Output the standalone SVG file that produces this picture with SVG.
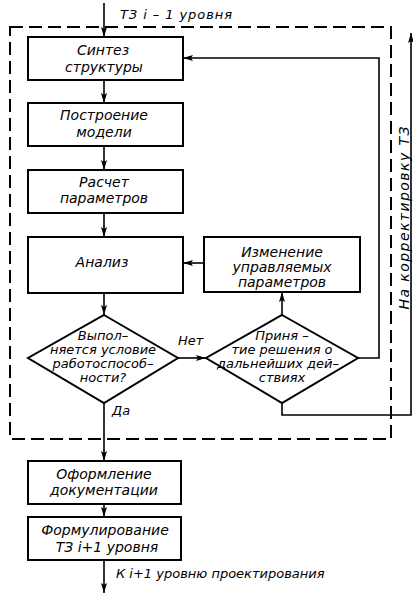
<svg xmlns="http://www.w3.org/2000/svg" width="413" height="596" viewBox="0 0 413 596">
<defs>
<marker id="ah" viewBox="0 0 10 6" refX="10" refY="3" markerWidth="10" markerHeight="6" markerUnits="userSpaceOnUse" orient="auto">
<path d="M0,0 L10,3 L0,6 L2,3 Z" fill="#000"/>
</marker>
</defs>
<style>
.b{fill:#fff;stroke:#000;stroke-width:2}
.l{fill:none;stroke:#000;stroke-width:1.6}
.d{fill:none;stroke:#000;stroke-width:2;stroke-dasharray:13 6}
text{font-family:"DejaVu Sans","Liberation Sans",sans-serif;font-style:italic;font-size:13px;fill:#000;text-anchor:middle}
.t{font-size:14px}
.s{text-anchor:start}
</style>
<rect width="413" height="596" fill="#fff"/>
<rect id="frame" class="d" x="10" y="27" width="381" height="412"/>
<g id="connectors">
<line class="l" x1="104" y1="3" x2="104" y2="37" marker-end="url(#ah)"/>
<line class="l" x1="104" y1="80" x2="104" y2="103" marker-end="url(#ah)"/>
<line class="l" x1="104" y1="146" x2="104" y2="170" marker-end="url(#ah)"/>
<line class="l" x1="104" y1="213" x2="104" y2="237" marker-end="url(#ah)"/>
<line class="l" x1="104" y1="293" x2="104" y2="315" marker-end="url(#ah)"/>
<line class="l" x1="104" y1="403" x2="104" y2="461" marker-end="url(#ah)"/>
<line class="l" x1="104" y1="504" x2="104" y2="517" marker-end="url(#ah)"/>
<line class="l" x1="104" y1="560" x2="104" y2="593" marker-end="url(#ah)"/>
<line class="l" x1="178" y1="358" x2="206" y2="358" marker-end="url(#ah)"/>
<line class="l" x1="282" y1="315" x2="282" y2="292" marker-end="url(#ah)"/>
<line class="l" x1="204" y1="263" x2="183" y2="263" marker-end="url(#ah)"/>
<polyline class="l" points="358,358 379,358 379,58 183,58" marker-end="url(#ah)"/>
<polyline class="l" points="282,403 282,415 411,415 411,33" marker-end="url(#ah)"/>
</g>
<g id="n1"><rect class="b" x="28" y="37" width="155" height="43"/><text class="t" x="103" y="55">Синтез</text><text class="t" x="104" y="72">структуры</text></g>
<g id="n2"><rect class="b" x="28" y="103" width="155" height="43"/><text class="t" x="104" y="120">Построение</text><text class="t" x="104" y="137">модели</text></g>
<g id="n3"><rect class="b" x="28" y="170" width="155" height="43"/><text class="t" x="104" y="187">Расчет</text><text class="t" x="104" y="203">параметров</text></g>
<g id="n4"><rect class="b" x="28" y="237" width="155" height="56"/><text class="t" x="102" y="267">Анализ</text></g>
<g id="n5"><rect class="b" x="204" y="237" width="156" height="55"/><text class="t" x="282" y="257">Изменение</text><text class="t" x="282" y="272">управляемых</text><text class="t" x="282" y="287">параметров</text></g>
<g id="d1"><polygon class="b" points="104,315 178,358 104,403 28,358"/><text x="103" y="340">Выпол–</text><text x="103" y="354">няется условие</text><text x="103" y="368">работоспособ–</text><text x="103" y="382">ности?</text></g>
<g id="d2"><polygon class="b" points="282,315 358,358 282,403 206,358"/><text x="282" y="340">Приня –</text><text x="282" y="354">тие решения о</text><text x="278" y="368">дальнейших дей–</text><text x="282" y="382">ствиях</text></g>
<g id="n6"><rect class="b" x="28" y="461" width="153" height="43"/><text class="t" x="104" y="479">Оформление</text><text class="t" x="104" y="495">документации</text></g>
<g id="n7"><rect class="b" x="28" y="517" width="153" height="43"/><text class="t" x="105" y="535">Формулирование</text><text class="t" x="107" y="552">ТЗ  i+1  уровня</text></g>
<g id="labels">
<text class="s" x="120" y="19" textLength="112" lengthAdjust="spacing">ТЗ   i – 1  уровня</text>
<text class="s" x="178" y="345">Нет</text>
<text class="s" x="112" y="415">Да</text>
<text class="s" x="116" y="578">К  i+1  уровню  проектирования</text>
<text class="t" x="0" y="0" transform="translate(409,218) rotate(-90)" textLength="183" lengthAdjust="spacing">На  корректировку  ТЗ</text>
</g>
</svg>
